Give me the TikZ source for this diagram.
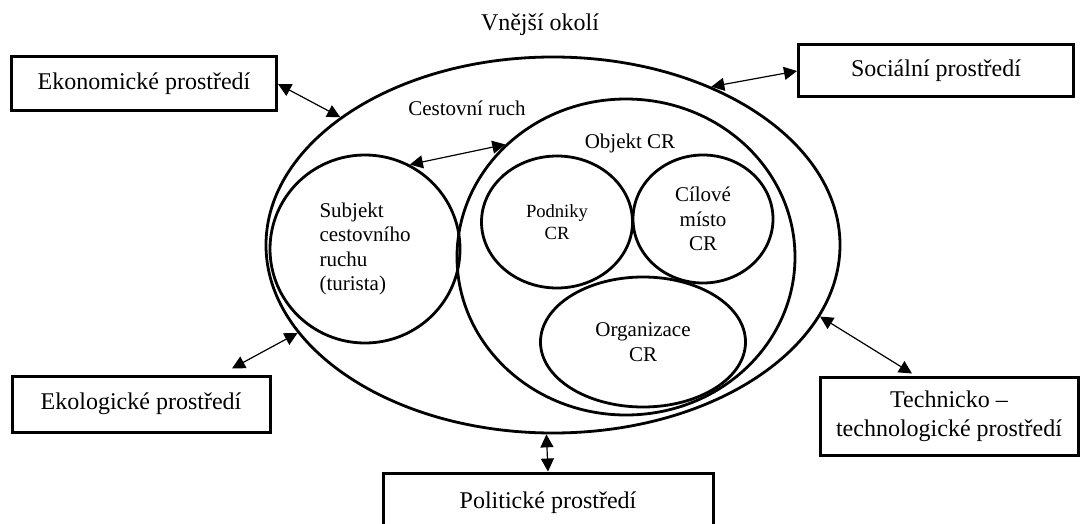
\documentclass[tikz,border=0pt]{standalone}
\usepackage{fontspec}
\setmainfont{Liberation Serif}
\usetikzlibrary{shapes.geometric,arrows.meta,calc}

\begin{document}
\begin{tikzpicture}[x=0.5pt, y=-0.5pt,
    prostredi/.style={rectangle, draw, line width=1.5pt, inner sep=0pt, align=center, font=\fontsize{12}{14.5}\selectfont},
    oval/.style={ellipse, draw, line width=1.4pt, inner sep=0pt, align=center, font=\fontsize{10.5}{12.3}\selectfont},
    vazba/.style={{Triangle[length=6.5pt,width=6.5pt]}-{Triangle[length=6.5pt,width=6.5pt]}, line width=0.6pt}
]
\useasboundingbox (0,0) rectangle (1081,524);
\clip (0,0) rectangle (1081,524);

% Vnejsi okoli
\node[font=\fontsize{12}{14.5}\selectfont] (okoli) at (540,25) {Vnější okolí};
\node[oval, minimum width=287pt, minimum height=188pt] (outer) at (553,245) {};
\node[font=\fontsize{10.5}{12.3}\selectfont] (cr) at (467,108) {Cestovní ruch};

% Subjekt
\node[oval, minimum width=95pt, minimum height=94pt, align=left] (subj) at (365,249) {Subjekt\\cestovního\\ruchu\\(turista)};

% Objekt CR
\node[oval, minimum width=169pt, minimum height=158pt] (obj) at (626,257) {};
\node[font=\fontsize{10.5}{12.3}\selectfont] (objlbl) at (630,143) {Objekt CR};
\node[oval, minimum width=75.5pt, minimum height=66pt, font=\fontsize{9.3}{11}\selectfont] (podniky) at (557,222) {Podniky\\CR};
\node[oval, minimum width=70pt, minimum height=64pt] (cil) at (703,219) {Cílové\\místo\\CR};
\node[oval, minimum width=102.5pt, minimum height=65pt] (org) at (643,342) {Organizace\\CR};

% Prostredi
\node[prostredi, minimum width=132.5pt, minimum height=27pt] (eko) at (144,84) {Ekonomické prostředí};
\node[prostredi, minimum width=137.5pt, minimum height=26pt] (soc) at (936,71) {Sociální prostředí};
\node[prostredi, minimum width=129pt, minimum height=28pt] (ekol) at (141,404) {Ekologické prostředí};
\node[prostredi, minimum width=129pt, minimum height=39pt] (tech) at (949,416) {Technicko –\\technologické prostředí};
\node[prostredi, minimum width=165pt, minimum height=30pt] (pol) at (548,503) {Politické prostředí};

% Vazby
\draw[vazba] (eko.east) -- (outer.149);
\draw[vazba] (outer.45) -- (soc.west);
\draw[vazba] (subj.62) -- (obj.137);
\draw[vazba] (outer.199) -- ($(ekol.north)+(91,-6)$);
\draw[vazba] (outer.345) -- ($(tech.north)+(-37,-2)$);
\draw[vazba] (outer.268) -- (pol.north);

\end{tikzpicture}
\end{document}
